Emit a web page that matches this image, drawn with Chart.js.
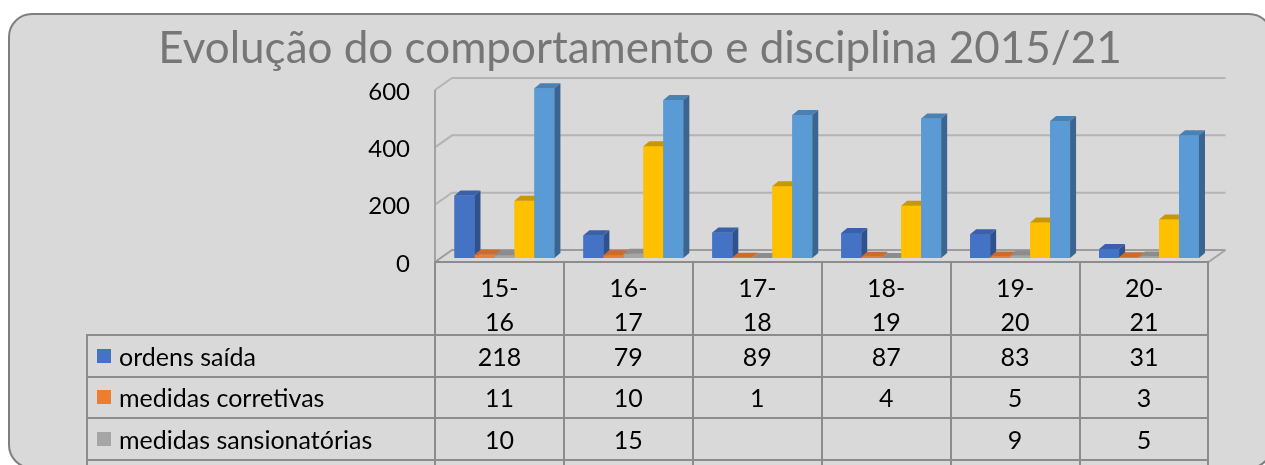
<!DOCTYPE html>
<html lang="pt">
<head>
<meta charset="utf-8">
<title>Evolução do comportamento e disciplina 2015/21</title>
<script src="https://cdn.jsdelivr.net/npm/chart.js@4.4.1/dist/chart.umd.min.js"></script>
<style>
  body { margin: 0; width: 1265px; height: 465px; overflow: hidden; position: relative; background: #fff; font-family: Lato, sans-serif; }
  #painel { position: absolute; left: 8px; top: 13px; width: 1265px; height: 456px; box-sizing: border-box; background: #d9d9d9; border: 2px solid #7f7f7f; border-radius: 24px; }
  #grafico { position: absolute; left: 0; top: 0; }
  #tabela { position: absolute; left: 0; top: 0; width: 1265px; height: 465px; }
  .cel { position: absolute; box-sizing: border-box; border: 2px solid #8c8c8c; font-size: 25px; color: #000; white-space: nowrap; display: flex; align-items: center; justify-content: center; }
  .cab { align-items: flex-start; padding-top: 7px; line-height: 34px; text-align: center; }
  .leg { justify-content: flex-start; padding-left: 9px; }
  .chave { display: inline-block; width: 14px; height: 14px; margin-right: 8px; }
</style>
</head>
<body>
<div id="painel"></div>
<canvas id="grafico" width="1265" height="465"></canvas>
<div id="tabela"></div>
<script>
// Dados do gráfico
const titulo = 'Evolução do comportamento e disciplina 2015/21';
const categorias = ['15-16', '16-17', '17-18', '18-19', '19-20', '20-21'];
const nomesSeries = ['ordens saída', 'medidas corretivas', 'medidas sansionatórias', 'participações disciplinares', 'registos de ocorrência'];
const ordensSaida = [218, 79, 89, 87, 83, 31];
const medidasCorretivas = [11, 10, 1, 4, 5, 3];
const medidasSansionatorias = [10, 15, null, null, 9, 5];
const participacoes = [200, 390, 250, 182, 124, 134];
const ocorrencias = [592, 551, 499, 487, 478, 428];
const ticksY = [0, 200, 400, 600];
const valores = [ordensSaida, medidasCorretivas, medidasSansionatorias, participacoes, ocorrencias];

// Cores (frente, topo, lado)
const coresFrente = ['#4472c4', '#ed7d31', '#a5a5a5', '#ffc000', '#5b9bd5'];
const coresTopo = ['#3a61a8', '#cf6a28', '#8c8c8c', '#c99700', '#4b80b2'];
const coresLado = ['#2f528f', '#ad5a21', '#7a7a7a', '#bf9000', '#3a6590'];

// Geometria 3D: deslocamentos a partir do plano das barras
const FRENTE = { dx: -5, dy: 4 };    // aresta da frente do chão
const FUNDO = { dx: 12, dy: -8 };    // parede do fundo
const BARRA = { dx: 6, dy: -5 };     // profundidade de cada barra
const ALT_CAB = 73;
const ALT_LINHA = 41.5;
const LEG_ESQ = 87;

// Paredes, grelha e chão desenhados antes das barras
const paredes = {
    id: 'paredes',
    beforeDatasetsDraw(chart) {
        const ctx = chart.ctx;
        const x = chart.scales.x, y = chart.scales.y;
        const esq = x.left, dir = x.right;
        ctx.save();
        ctx.lineWidth = 2;
        ticksY.forEach(function(v) {
            const py = y.getPixelForValue(v);
            ctx.strokeStyle = v === 0 ? '#9c9c9c' : '#b4b4b4';
            ctx.beginPath();
            ctx.moveTo(esq + FRENTE.dx, py + FRENTE.dy);
            ctx.lineTo(esq + FUNDO.dx, py + FUNDO.dy);
            ctx.lineTo(dir + FUNDO.dx, py + FUNDO.dy);
            ctx.stroke();
        });
        const y0 = y.getPixelForValue(0), yMax = y.getPixelForValue(ticksY[ticksY.length - 1]);
        ctx.strokeStyle = '#a3a3a3';
        ctx.beginPath();
        ctx.moveTo(esq + FRENTE.dx, yMax + FRENTE.dy);
        ctx.lineTo(esq + FRENTE.dx, y0 + FRENTE.dy);
        ctx.lineTo(dir + FRENTE.dx, y0 + FRENTE.dy);
        ctx.lineTo(dir + FUNDO.dx, y0 + FUNDO.dy);
        ctx.stroke();
        ctx.restore();
    }
};

// Faces de topo e lado de cada barra, categoria a categoria
const barras3d = {
    id: 'barras3d',
    afterDatasetsDraw(chart) {
        const ctx = chart.ctx;
        const base = chart.scales.y.getPixelForValue(0);
        ctx.save();
        categorias.forEach(function(c, j) {
            chart.data.datasets.forEach(function(ds, k) {
                const bar = chart.getDatasetMeta(k).data[j];
                const p = bar.getProps(['x', 'y', 'width'], true);
                const topo = ds.data[j] == null ? base : p.y;
                const l = p.x - p.width / 2, r = p.x + p.width / 2;
                ctx.fillStyle = coresFrente[k];
                ctx.fillRect(l, topo, p.width, base - topo);
                ctx.fillStyle = coresTopo[k];
                ctx.beginPath();
                ctx.moveTo(l, topo);
                ctx.lineTo(l + BARRA.dx, topo + BARRA.dy);
                ctx.lineTo(r + BARRA.dx, topo + BARRA.dy);
                ctx.lineTo(r, topo);
                ctx.closePath();
                ctx.fill();
                ctx.fillStyle = coresLado[k];
                ctx.beginPath();
                ctx.moveTo(r, topo);
                ctx.lineTo(r + BARRA.dx, topo + BARRA.dy);
                ctx.lineTo(r + BARRA.dx, base + BARRA.dy);
                ctx.lineTo(r, base);
                ctx.closePath();
                ctx.fill();
            });
        });
        ctx.restore();
    }
};

// Uma célula da tabela de dados
function celula(l, t, w, h, conteudo, cls) {
    return '<div class="cel ' + cls + '" style="left:' + (l - 1) + 'px;top:' + (t - 1) + 'px;width:' + (w + 2) +
        'px;height:' + (h + 2) + 'px">' + conteudo + '</div>';
}

// Tabela de dados alinhada com as categorias do eixo x
function montarTabela(chart) {
    const x = chart.scales.x, y = chart.scales.y;
    const larg = (x.right - x.left) / categorias.length;
    const topo = y.getPixelForValue(0) + FRENTE.dy;
    const esq = x.left + FRENTE.dx;
    let html = '';
    categorias.forEach(function(c, i) {
        const cx = x.getPixelForValue(i) + FRENTE.dx;
        html += celula(cx - larg / 2, topo, larg, ALT_CAB, c.replace('-', '-<br>'), 'cab');
    });
    let yy = topo + ALT_CAB;
    nomesSeries.forEach(function(nome, k) {
        html += celula(LEG_ESQ, yy, esq - LEG_ESQ, ALT_LINHA,
            '<span class="chave" style="background:' + coresFrente[k] + '"></span>' + nome, 'leg');
        categorias.forEach(function(c, i) {
            const cx = x.getPixelForValue(i) + FRENTE.dx;
            const v = valores[k][i];
            html += celula(cx - larg / 2, yy, larg, ALT_LINHA, v == null ? '' : v, 'val');
        });
        yy += ALT_LINHA;
    });
    document.getElementById('tabela').innerHTML = html;
}

const ctx = document.getElementById('grafico').getContext('2d');
const chart = new Chart(ctx, {
    type: 'bar',
    data: {
        labels: categorias,
        datasets: nomesSeries.map(function(nome, k) {
            return {
                label: nome,
                data: valores[k],
                backgroundColor: coresFrente[k],
                borderWidth: 0,
                inflateAmount: 0,
                barPercentage: 1,
                categoryPercentage: 0.775
            };
        })
    },
    options: {
        responsive: false,
        animation: false,
        layout: { padding: { top: 0, right: 51.5, bottom: 207, left: 66.5 } },
        plugins: {
            legend: { display: false },
            tooltip: { enabled: false },
            title: {
                display: true,
                text: titulo,
                color: '#767676',
                font: { family: 'Lato', size: 44, weight: 'normal', lineHeight: 1 },
                padding: { top: 27, bottom: 15 }
            }
        },
        scales: {
            x: { display: false },
            y: {
                min: 0,
                max: 600,
                afterBuildTicks: function(s) { s.ticks = ticksY.map(function(v) { return { value: v }; }); },
                afterFit: function(s) { s.width = 440 - 66.5; },
                grid: { display: false, drawTicks: false },
                border: { display: false },
                ticks: { color: '#000', font: { family: 'Lato', size: 24 }, padding: 30, labelOffset: 6 }
            }
        }
    },
    plugins: [paredes, barras3d]
});

montarTabela(chart);
</script>
</body>
</html>
